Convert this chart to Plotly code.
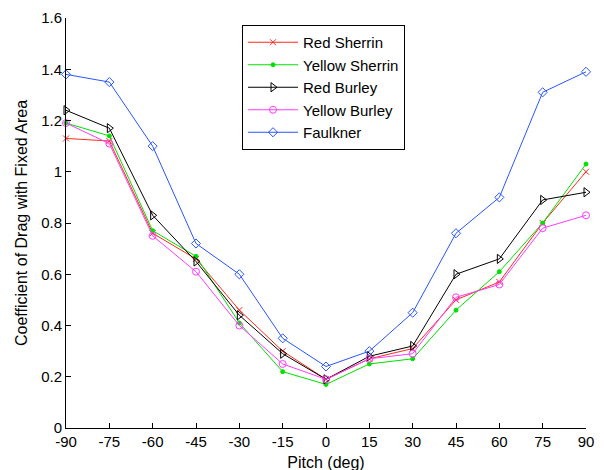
import plotly.graph_objects as go

pitch = [-90, -75, -60, -45, -30, -15, 0, 15, 30, 45, 60, 75, 90]
red_sherrin = [1.13, 1.12, 0.76, 0.66, 0.46, 0.30, 0.19, 0.27, 0.31, 0.50, 0.57, 0.80, 1.00]
yellow_sherrin = [1.19, 1.14, 0.77, 0.67, 0.41, 0.22, 0.17, 0.25, 0.27, 0.46, 0.61, 0.80, 1.03]
red_burley = [1.24, 1.17, 0.83, 0.65, 0.44, 0.29, 0.19, 0.28, 0.32, 0.60, 0.66, 0.89, 0.92]
yellow_burley = [1.19, 1.11, 0.75, 0.61, 0.40, 0.25, 0.19, 0.27, 0.29, 0.51, 0.56, 0.78, 0.83]
faulkner = [1.38, 1.35, 1.10, 0.72, 0.60, 0.35, 0.24, 0.30, 0.45, 0.76, 0.90, 1.31, 1.39]

x_ticks = [-90, -75, -60, -45, -30, -15, 0, 15, 30, 45, 60, 75, 90]
y_ticks = [0, 0.2, 0.4, 0.6, 0.8, 1, 1.2, 1.4, 1.6]
y_tick_labels = ["0", "0.2", "0.4", "0.6", "0.8", "1", "1.2", "1.4", "1.6"]

series = [
    ("Red Sherrin", red_sherrin, "#ff2a1a", "x-thin-open", 6),
    ("Yellow Sherrin", yellow_sherrin, "#00e000", "circle", 4),
    ("Red Burley", red_burley, "#000000", "triangle-right-open", 8),
    ("Yellow Burley", yellow_burley, "#ff3cff", "circle-open", 7),
    ("Faulkner", faulkner, "#2a55ff", "diamond-open", 7),
]

fig = go.Figure()
for name, vals, color, sym, size in series:
    fig.add_trace(go.Scatter(
        x=pitch, y=vals, name=name, mode="lines+markers",
        line=dict(color=color, width=1),
        marker=dict(symbol=sym, size=size, color=color, line=dict(color=color, width=1)),
        cliponaxis=False,
    ))

fam = "Liberation Sans, Arial, sans-serif"
font = dict(family=fam, size=15, color="#000000")

# page body has an 8px margin; margins below compensate so the plot area
# sits at x 66..586, y 18..428 in the window
fig.update_layout(
    width=604, height=470,
    margin=dict(l=58, r=26, t=10, b=50),
    paper_bgcolor="white", plot_bgcolor="white",
    font=font,
    showlegend=True,
    legend=dict(
        x=(242 - 66) / 520, y=(428 - 25) / 410, xanchor="left", yanchor="top",
        bordercolor="#000000", borderwidth=1, bgcolor="white",
        font=dict(family=fam, size=15, color="#000000"),
        tracegroupgap=0, itemwidth=50,
    ),
    xaxis=dict(
        range=[-90, 90], tickmode="array", tickvals=x_ticks,
        ticktext=[str(t) for t in x_ticks],
        ticks="inside", ticklen=5, tickcolor="#000000",
        showline=True, linecolor="#000000", linewidth=1, mirror=False,
        showgrid=False, zeroline=False, automargin=False,
        title=dict(text="Pitch (deg)", standoff=7, font=dict(family=fam, size=16)),
        tickfont=dict(family=fam, size=15),
    ),
    yaxis=dict(
        range=[0, 1.6], tickmode="array", tickvals=y_ticks, ticktext=y_tick_labels,
        ticks="inside", ticklen=5, tickcolor="#000000",
        showline=True, linecolor="#000000", linewidth=1, mirror=False,
        showgrid=False, zeroline=False, automargin=False,
        title=dict(text="Coefficient of Drag with Fixed Area", standoff=9, font=dict(family=fam, size=16)),
        tickfont=dict(family=fam, size=15),
    ),
)

fig.write_html("out.html")
